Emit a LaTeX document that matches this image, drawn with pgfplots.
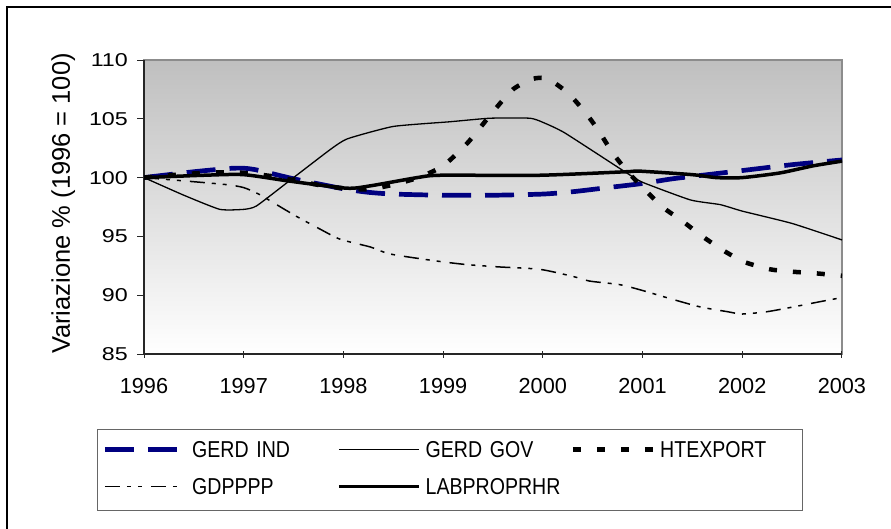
\documentclass[border=0pt]{standalone}
\usepackage{fontspec}
\setmainfont{Liberation Sans}
\newfontfamily\ytickfont{Liberation Sans}[FakeStretch=1.25]
\newfontfamily\legfont{Liberation Sans}[FakeStretch=0.85]
\usepackage{pgfplots}
\usepackage{pgfplotstable}
\pgfplotsset{compat=1.18}
\definecolor{navyb}{RGB}{0,0,128}
\pgfplotsset{
  legshort/.style={legend image code/.code={\draw[##1, line cap=butt] (0pt,2.2pt) -- (72pt,2.2pt); \path (-3pt,0pt) (80pt,0pt);}},
  leglong/.style={legend image code/.code={\draw[##1, line cap=butt] (0pt,2.2pt) -- (80pt,2.2pt);}},
}

\pgfplotstableread{
x y
1996.00 100.0
1996.50 100.5
1996.90 100.8
1997.10 100.7
1997.50 99.9
1998.00 99.05
1998.25 98.75
1998.50 98.6
1999.00 98.5
1999.50 98.5
2000.00 98.6
2000.30 98.8
2000.65 99.15
2001.00 99.5
2001.30 99.9
2001.70 100.3
2002.00 100.6
2002.50 101.1
2003.00 101.5
}\gerdind

\pgfplotstableread{
x y
1996.00 100.0
1996.40 98.5
1996.76 97.3
1997.00 97.3
1997.13 97.6
1997.50 100.0
1997.87 102.4
1998.04 103.3
1998.50 104.35
1999.07 104.75
1999.47 105.05
1999.87 105.05
2000.00 104.7
2000.22 103.8
2000.84 100.4
2001.00 99.6
2001.48 98.1
2001.78 97.7
2002.00 97.15
2002.50 96.1
2003.00 94.7
}\gerdgov

\pgfplotstableread{
x y
1996.00 100.0
1996.40 100.3
1996.75 100.45
1997.00 100.4
1997.30 100.1
1997.55 99.7
1997.80 99.3
1998.00 99.1
1998.25 99.0
1998.50 99.4
1998.75 100.0
1999.00 101.0
1999.25 103.0
1999.50 105.6
1999.70 107.5
1999.90 108.4
2000.05 108.4
2000.25 107.2
2000.42 105.6
2000.55 104.1
2000.70 102.1
2000.85 100.5
2001.02 99.0
2001.20 97.5
2001.40 96.3
2001.60 95.0
2001.83 93.7
2002.03 92.8
2002.28 92.2
2002.50 92.0
2002.75 91.85
2003.00 91.65
}\htexport

\pgfplotstableread{
x y
1996.00 100.0
1996.43 99.7
1996.83 99.4
1997.00 99.15
1997.15 98.6
1997.33 97.7
1997.53 96.7
1997.77 95.6
1997.97 94.75
1998.27 94.1
1998.47 93.5
1998.94 92.9
1999.24 92.6
1999.57 92.4
1999.97 92.2
2000.30 91.6
2000.47 91.2
2000.77 90.9
2001.00 90.4
2001.28 89.7
2001.58 89.0
2001.85 88.6
2002.00 88.4
2002.25 88.6
2002.51 89.0
2002.78 89.45
2003.00 89.8
}\gdpppp

\pgfplotstableread{
x y
1996.00 100.0
1996.60 100.2
1997.00 100.25
1997.46 99.7
1998.03 99.1
1998.27 99.3
1998.74 100.0
1998.97 100.2
1999.97 100.2
2000.84 100.5
2000.97 100.55
2001.50 100.25
2001.74 100.0
2002.00 100.0
2002.38 100.4
2002.71 101.0
2003.00 101.4
}\labprop

\begin{document}
\begin{tikzpicture}
\useasboundingbox (0,0) rectangle (891pt,528pt);
\clip (0,0) rectangle (891pt,528pt);
\fill[white] (0,0) rectangle (891pt,528pt);
\draw[line width=2pt] (7pt,-20pt) rectangle (910pt,521pt);
\begin{axis}[
  at={(144pt,174pt)}, anchor=south west,
  scale only axis, width=698pt, height=294pt,
  xmin=1996, xmax=2003, ymin=85, ymax=110,
  xtick={1996,1997,...,2003}, ytick={85,90,...,110},
  axis lines*=left,
  axis line style={black!85, line width=1.2pt},
  axis background/.style={shade, top color=black!25, bottom color=white, draw=black!45, line width=1.2pt},
  tick style={black!85, line width=1pt},
  major tick length=7pt,
  xtick align=center,
  ytick align=outside,
  /pgf/number format/assume math mode=true,
  x tick label style={/pgf/number format/1000 sep={}, font=\fontsize{21.7}{24}\selectfont, inner sep=0pt, anchor=north, yshift=-21pt},
  y tick label style={font=\ytickfont\fontsize{18.6}{21}\selectfont, inner sep=0pt, anchor=east, xshift=-9pt},
  ylabel={Variazione \% (1996 = 100)},
  ylabel style={at={(axis description cs:-0.1062,0.512)}, anchor=base, inner sep=0pt, font=\fontsize{25.5}{28}\selectfont},
  legend columns=3,
  legend cell align=left,
  legend style={at={(-0.06734,-0.2551)}, anchor=north west, draw=black!60, line width=1pt, fill=white,
    inner xsep=2pt, inner ysep=11pt, column sep=5pt, row sep=15pt,
    font=\legfont\fontsize{23}{25}\selectfont,
    nodes={inner sep=0pt, text width=140pt, align=left, text height=17pt, text depth=5pt, anchor=west}},
]
\addplot[navyb, line width=4.7pt, dash pattern=on 29pt off 14pt, smooth, tension=0.4, legshort]
  table {\gerdind};
\addlegendentry{GERD IND}
\addplot[black, line width=1.3pt, smooth, tension=0.3, leglong]
  table {\gerdgov};
\addlegendentry{GERD GOV}
\addplot[black, line width=4.5pt, dash pattern=on 8pt off 16pt, smooth, tension=0.4, leglong]
  table {\htexport};
\addlegendentry{HTEXPORT}
\addplot[black, line width=1.5pt, dash pattern=on 15pt off 7pt on 4pt off 7pt on 4pt off 9pt, smooth, tension=0.4, legshort]
  table {\gdpppp};
\addlegendentry{GDPPPP}
\addplot[black, line width=3.5pt, smooth, tension=0.4, leglong]
  table {\labprop};
\addlegendentry{LABPROPRHR}
\end{axis}
\end{tikzpicture}
\end{document}
